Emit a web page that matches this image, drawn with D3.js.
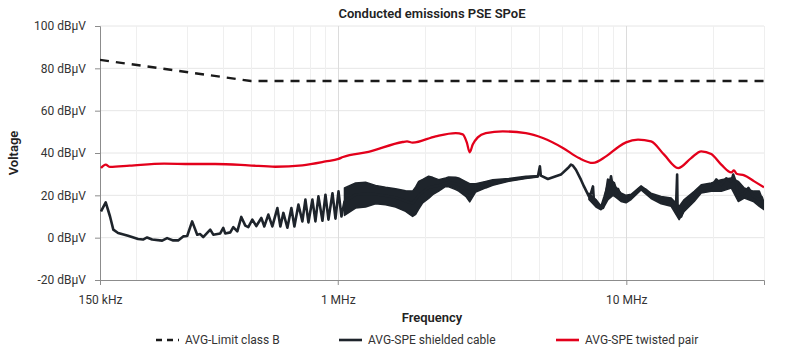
<!DOCTYPE html>
<html>
<head>
<meta charset="utf-8">
<script src="https://cdn.jsdelivr.net/npm/d3@7"></script>
<style>
  html, body { margin: 0; padding: 0; background: #fff; }
  svg { display: block; font-family: Roboto, "Noto Sans", sans-serif; }
</style>
</head>
<body>
<svg id="chart" width="800" height="353"></svg>
<script>
// ---------- DATA (frequency in MHz, level in dBµV) ----------
const chartTitle = "Conducted emissions PSE SPoE";
const xTitle = "Frequency";
const yTitle = "Voltage";
const seriesNames = ["AVG-Limit class B", "AVG-SPE shielded cable", "AVG-SPE twisted pair"];

const xTickValues = [0.15, 1, 10];
const xTickLabels = ["150 kHz", "1 MHz", "10 MHz"];
const yTickValues = [-20, 0, 20, 40, 60, 80, 100];
const xGridValues = [0.2, 0.3, 0.4, 0.5, 0.6, 0.7, 0.8, 0.9, 1, 2, 3, 4, 5, 6, 7, 8, 9, 10, 20, 30];

// Limit line
const limitFreq  = [0.15, 0.5, 30];
const limitLevel = [84, 74, 74];

// Twisted pair (red)
const twistedFreq = [0.1512, 0.157, 0.1625, 0.19, 0.25, 0.31, 0.376, 0.49, 0.608, 0.754, 0.907, 1.006, 1.043,
  1.278, 1.678, 1.738, 1.817, 2.184, 2.563, 2.711, 2.8, 2.866, 2.936, 3.056, 3.258, 3.732, 4.487, 5.138,
  6.03, 6.852, 7.664, 8.503, 9.434, 9.98, 10.98, 12.18, 13.52, 15.12, 16.77, 18.18, 19.69, 21.33, 23.1,
  23.6, 24.1, 25.63, 27.76, 30];
const twistedLevel = [32.9, 34.5, 33.4, 34.0, 35.0, 34.8, 34.8, 34.2, 33.5, 34.2, 36.0, 37.2, 38.1,
  40.5, 45.2, 45.5, 44.9, 47.9, 49.4, 48.8, 45.0, 40.3, 44.0, 47.4, 49.4, 50.2, 49.4, 47.1,
  42.4, 37.6, 35.3, 38.4, 43.1, 45.0, 46.3, 45.5, 39.2, 32.9, 37.6, 40.8, 39.5, 34.5, 30.8,
  31.8, 30.2, 29.4, 26.6, 23.8];

// Shielded cable (black) trace
const shieldedFreq = [0.1512, 0.157, 0.1625, 0.1668, 0.1733, 0.1876, 0.2033, 0.2115, 0.2184, 0.2274, 0.2463,
  0.2562, 0.269, 0.2799, 0.2913, 0.3008, 0.3129, 0.3258, 0.3336, 0.3418, 0.3615, 0.3704, 0.3915, 0.4011,
  0.4074, 0.4242, 0.4345, 0.4487, 0.4632, 0.4782, 0.4898, 0.5058, 0.5222, 0.5435, 0.5566, 0.5747, 0.5933,
  0.6176, 0.6326, 0.648, 0.669, 0.6907, 0.7076, 0.7305, 0.7542, 0.7725, 0.7913, 0.8169, 0.8368, 0.8571,
  0.885, 0.9065, 0.9285, 0.9587, 0.982, 1.006, 1.03, 1.055,
  1.153, 1.248, 1.352, 1.464, 1.586, 1.718, 1.817, 1.908, 2.065, 2.238, 2.424, 2.625, 2.866, 3.008,
  3.258, 3.445, 3.915, 4.487, 4.939, 5.018, 5.055, 5.349, 5.934, 6.276, 6.428, 6.532, 6.69, 6.963, 7.133,
  7.42, 7.542, 7.664, 7.725, 7.85, 8.17, 8.302, 8.369, 8.503, 8.64, 8.71, 8.85, 8.993, 9.065, 9.21, 9.36,
  9.586, 9.741, 9.98, 10.39, 10.98, 11.25, 11.71, 12.18, 12.89, 13.74, 14.3, 14.88, 15.0, 15.05, 15.24,
  15.49, 15.87, 17.19, 18.18, 19.69, 20.5, 21.33, 22.2, 23.1, 23.47, 24.05, 24.43, 25.63, 26.5, 27.54,
  28.9, 29.5, 30];
const shieldedLevel = [12.4, 16.7, 10.0, 3.8, 2.2, 0.9, -0.6, -0.9, 0.1, -0.9, -1.4,
  -0.2, -1.3, -1.3, 0.6, 0.8, 7.7, 1.4, 1.7, 0.3, 3.8, 1.4, 2.0, 4.6,
  2.0, 2.5, 5.0, 3.0, 9.8, 5.7, 5.0, 8.5, 5.5, 9.3, 5.3, 10.9, 5.3,
  14.0, 5.3, 11.7, 4.7, 14.0, 5.3, 15.6, 7.7, 18.0, 7.2, 18.0, 7.7, 19.5,
  8.0, 20.3, 8.5, 21.0, 9.0, 21.9, 10.0, 17.0,
  20.3, 20.8, 20.5, 19.8, 19.0, 17.3, 16.2, 20.0, 23.7, 24.7, 26.3, 25.0, 21.0, 23.5,
  25.0, 26.0, 27.2, 28.4, 29.0, 33.7, 29.3, 27.7, 29.8, 32.9, 34.5, 34.0, 32.1, 27.4, 24.2,
  19.5, 21.0, 24.2, 17.0, 16.0, 14.0, 14.0, 17.0, 21.0, 27.4, 23.0, 29.0, 23.0, 25.8, 21.0, 23.0,
  19.0, 18.0, 18.0, 19.5, 22.7, 23.5, 22.5, 20.0, 18.5, 17.5, 17.0, 16.0, 29.8, 15.0, 11.0,
  10.0, 14.0, 19.5, 23.0, 24.0, 27.5, 25.0, 28.0, 26.5, 29.8, 25.5, 20.0, 21.0, 23.5, 19.5,
  18.0, 19.0, 15.0];

// Shielded cable: envelope of the dense ripple (filled band)
const rippleFreq = [1.055, 1.153, 1.248, 1.352, 1.464, 1.586, 1.718, 1.817, 1.862, 1.908, 1.970, 2.065,
  2.133, 2.238, 2.366, 2.424, 2.563, 2.625, 2.777, 2.866, 3.008, 3.258, 3.445, 3.915, 4.487, 4.939];
const rippleHigh = [23.5, 25.8, 26.2, 24.7, 23.8, 23.1, 22.2, 22.0, 24.0, 26.6, 27.5, 29.0,
  28.5, 27.4, 28.2, 28.7, 28.5, 28.2, 26.5, 25.5, 25.5, 26.6, 27.4, 27.9, 29.0, 29.3];
const rippleLow = [10.5, 14.0, 14.5, 16.0, 15.5, 14.5, 12.4, 10.0, 11.0, 13.5, 16.4, 18.5,
  20.3, 22.0, 24.2, 24.0, 22.7, 22.0, 19.5, 16.9, 21.6, 23.5, 24.7, 26.6, 27.9, 28.7];

// Shielded cable: envelope of the noisy high-frequency trace
const noiseFreq = [7.42, 7.85, 8.17, 8.369, 8.64, 8.993, 9.21, 9.586, 9.98, 10.39, 11.25, 12.18, 13.2,
  14.3, 15.24, 15.87, 17.19, 18.18, 19.69, 21.33, 23.1, 24.43, 25.63, 27.54, 28.9, 30];
const noiseHigh = [21.0, 18.0, 15.0, 19.5, 26.0, 26.5, 24.0, 21.1, 20.0, 20.5, 24.5, 21.0, 19.5,
  18.7, 14.8, 18.0, 21.9, 25.0, 25.8, 27.4, 28.2, 26.6, 23.5, 22.0, 22.0, 16.4];
const noiseLow = [18.0, 14.5, 13.2, 14.5, 18.0, 20.0, 19.0, 17.1, 16.5, 18.0, 22.5, 18.5, 16.0,
  14.8, 8.5, 12.4, 17.1, 21.1, 21.9, 21.9, 23.5, 17.1, 18.7, 17.1, 14.8, 13.2];

// ---------- LAYOUT ----------
const W = 800, H = 353;
const m = { left: 100, right: 36, top: 26, bottom: 73 };
const plotW = W - m.left - m.right, plotH = H - m.top - m.bottom;
const colBlack = "#1e242b", colRed = "#e3001b", colLimit = "#1a1a1a";

const svg = d3.select("#chart");
const x = d3.scaleLog().domain([0.15, 30]).range([m.left, m.left + plotW]);
const y = d3.scaleLinear().domain([-20, 100]).range([m.top + plotH, m.top]);

// grid
const grid = svg.append("g");
grid.selectAll("line.h").data(yTickValues.filter(v => v > -20)).join("line")
  .attr("x1", m.left).attr("x2", m.left + plotW)
  .attr("y1", d => y(d)).attr("y2", d => y(d))
  .attr("stroke", "#e6e6e6").attr("stroke-width", 1);
grid.selectAll("line.v").data(xGridValues).join("line")
  .attr("x1", d => Math.round(x(d)) + 0.5).attr("x2", d => Math.round(x(d)) + 0.5)
  .attr("y1", m.top).attr("y2", m.top + plotH)
  .attr("stroke", d => (d === 1 || d === 10) ? "#dcdcdc" : "#efefef").attr("stroke-width", 1);

// axes
const yAxis = d3.axisLeft(y).tickValues(yTickValues).tickSize(5).tickPadding(9)
  .tickFormat(d => d + " dBµV");
const gy = svg.append("g").attr("transform", `translate(${m.left},0)`).call(yAxis);
const xAxis = d3.axisBottom(x).tickValues(xTickValues).tickSize(5).tickPadding(10)
  .tickFormat((d, i) => xTickLabels[i]);
const gx = svg.append("g").attr("transform", `translate(0,${m.top + plotH})`).call(xAxis);
[gx, gy].forEach(g => {
  g.select(".domain").attr("stroke", "#8c8c8c");
  g.selectAll(".tick line").attr("stroke", "#8c8c8c");
  g.selectAll(".tick text").attr("fill", "#333").style("font-size", "12px")
    .style("font-family", "Roboto, sans-serif");
});

// clip
svg.append("clipPath").attr("id", "clip").append("rect")
  .attr("x", m.left).attr("y", m.top).attr("width", plotW).attr("height", plotH);
const plot = svg.append("g").attr("clip-path", "url(#clip)");

// bands (dense ripple / noise of shielded cable)
const bandArea = d3.area().x(d => x(d.f)).y0(d => y(d.lo)).y1(d => y(d.hi));
[[rippleFreq, rippleHigh, rippleLow], [noiseFreq, noiseHigh, noiseLow]].forEach(([F, Hi, Lo]) => {
  const pts = F.map((f, i) => ({ f, hi: Hi[i], lo: Lo[i] }));
  plot.append("path").datum(pts).attr("d", bandArea)
    .attr("fill", colBlack).attr("stroke", colBlack).attr("stroke-width", 1.5)
    .attr("stroke-linejoin", "round");
});

const line = d3.line().x(d => x(d[0])).y(d => y(d[1]));
// shielded cable line
plot.append("path").datum(shieldedFreq.map((f, i) => [f, shieldedLevel[i]]))
  .attr("d", line).attr("fill", "none").attr("stroke", colBlack)
  .attr("stroke-width", 2.6).attr("stroke-linejoin", "round");

// twisted pair line
plot.append("path").datum(twistedFreq.map((f, i) => [f, twistedLevel[i]]))
  .attr("d", line.curve(d3.curveMonotoneX)).attr("fill", "none").attr("stroke", colRed)
  .attr("stroke-width", 2.3).attr("stroke-linejoin", "round");

// limit line
plot.append("path").datum(limitFreq.map((f, i) => [f, limitLevel[i]]))
  .attr("d", d3.line().x(d => x(d[0])).y(d => y(d[1])))
  .attr("fill", "none").attr("stroke", colLimit).attr("stroke-width", 2.4)
  .attr("stroke-dasharray", "9,7");

// titles
svg.append("text").attr("x", m.left + plotW / 2).attr("y", 18).attr("text-anchor", "middle")
  .attr("fill", "#222").style("font-size", "13px").style("font-weight", "600").text(chartTitle);
svg.append("text").attr("x", m.left + plotW / 2).attr("y", 322).attr("text-anchor", "middle")
  .attr("fill", "#222").style("font-size", "13px").style("font-weight", "600").text(xTitle);
svg.append("text").attr("transform", `translate(18,${m.top + plotH / 2}) rotate(-90)`)
  .attr("text-anchor", "middle").attr("fill", "#222").style("font-size", "13px")
  .style("font-weight", "600").text(yTitle);

// legend
const legendX = [156, 339, 556];
const legendStyles = [
  { stroke: colLimit, dash: "6,5", w: 2.4 },
  { stroke: colBlack, dash: null, w: 2.6 },
  { stroke: colRed, dash: null, w: 2.6 }
];
const lg = svg.append("g");
seriesNames.forEach((name, i) => {
  const g = lg.append("g").attr("transform", `translate(${legendX[i]},340)`);
  g.append("line").attr("x1", 0).attr("x2", 23).attr("y1", 0).attr("y2", 0)
    .attr("stroke", legendStyles[i].stroke).attr("stroke-width", legendStyles[i].w)
    .attr("stroke-dasharray", legendStyles[i].dash);
  g.append("text").attr("x", 29).attr("y", 4).attr("fill", "#333")
    .style("font-size", "12px").text(name);
});
</script>
</body>
</html>
